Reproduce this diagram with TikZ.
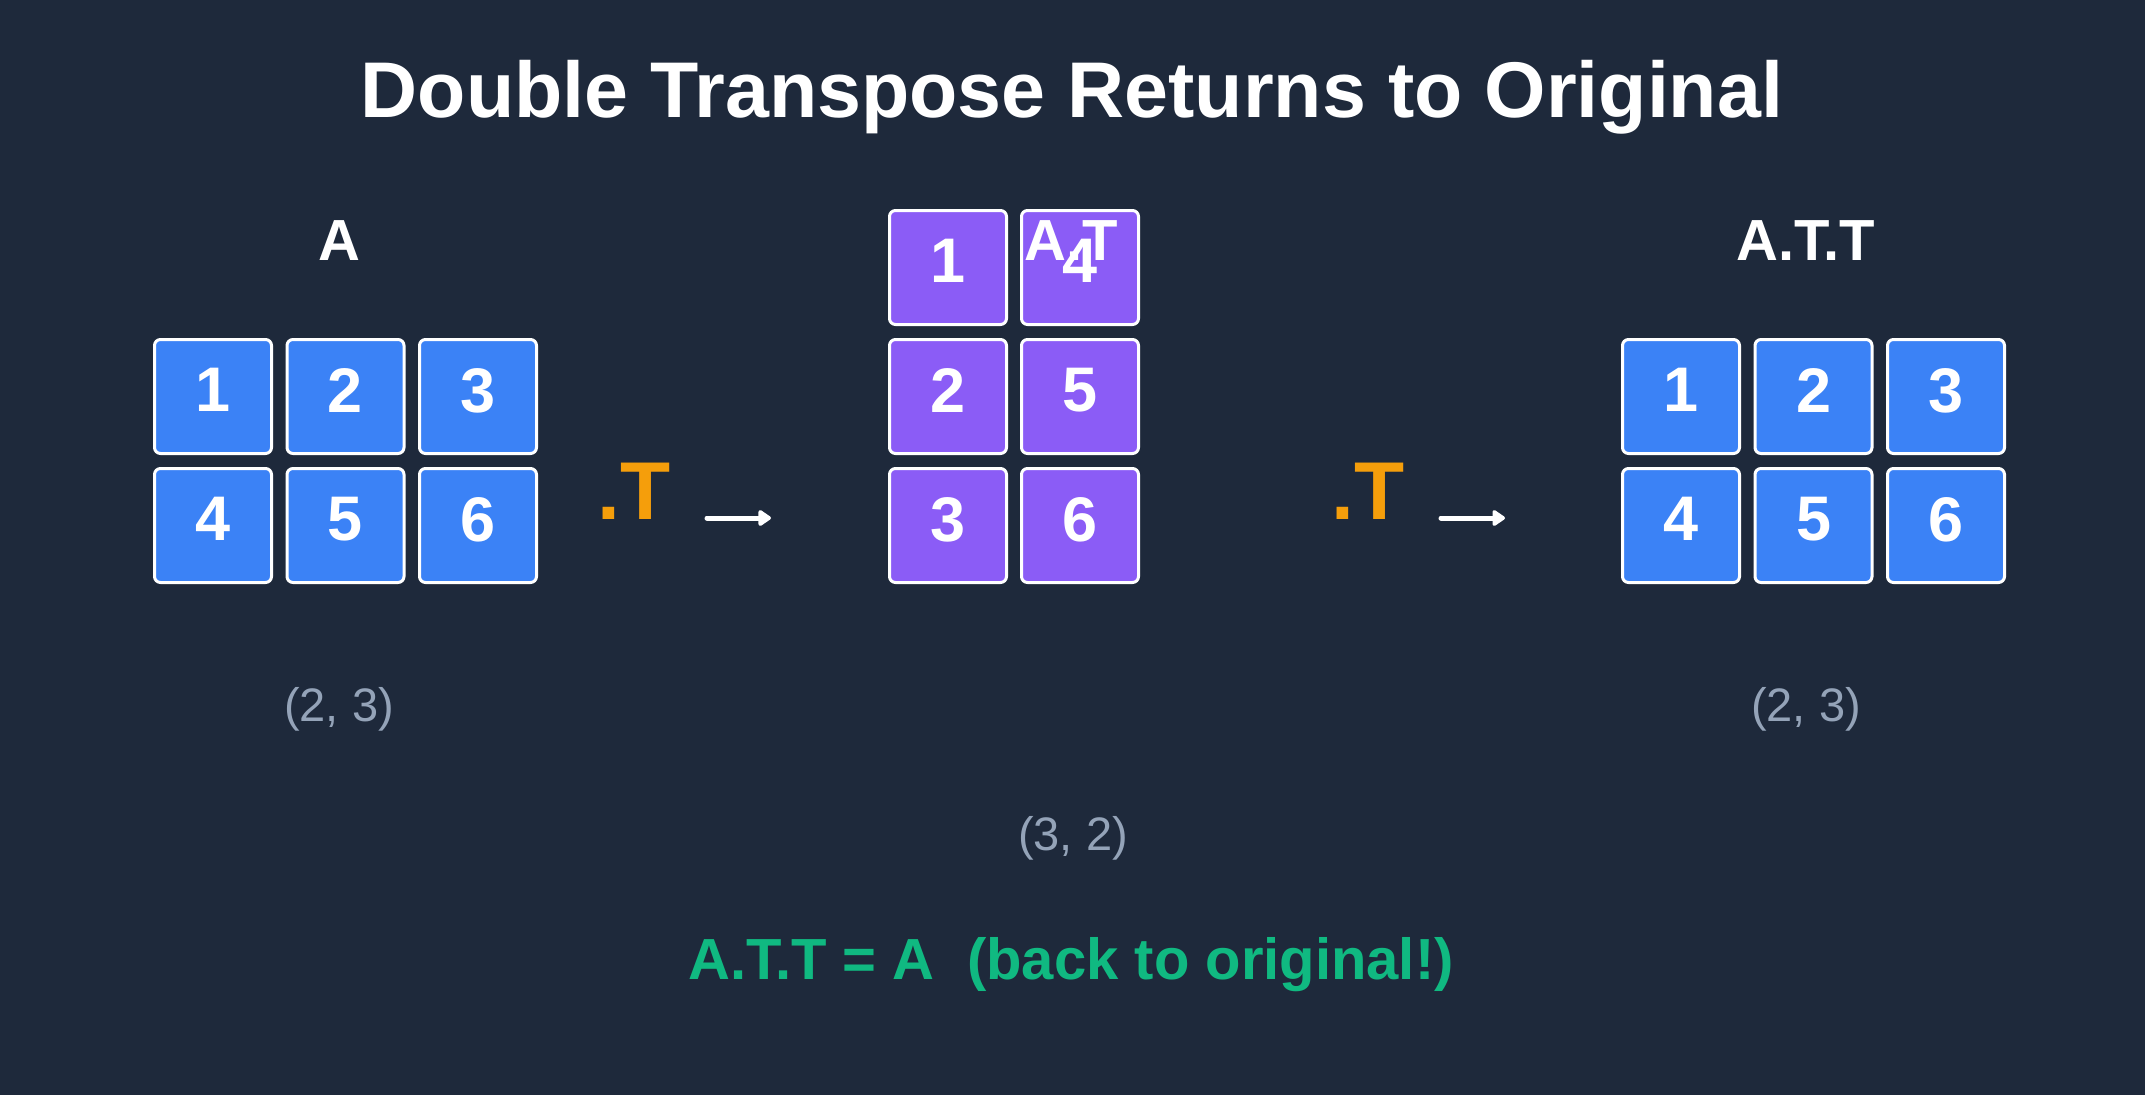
\documentclass[tikz,border=0pt]{standalone}
\usepackage{fontspec}
\setmainfont{Liberation Sans}
\usetikzlibrary{arrows.meta,positioning}
\definecolor{bgnavy}{RGB}{30,41,59}
\definecolor{cellblue}{RGB}{59,130,246}
\definecolor{cellpurple}{RGB}{139,92,246}
\definecolor{oporange}{RGB}{245,158,11}
\definecolor{shapegray}{RGB}{148,163,184}
\definecolor{notegreen}{RGB}{16,185,129}

\begin{document}
\begin{tikzpicture}[x=1pt,y=-1pt,
    cell/.style={draw=white,line width=3pt,rounded corners=6pt,
      minimum width=117pt,minimum height=114pt,inner sep=0pt,text depth=13pt,
      text=white,font=\fontsize{63}{63}\selectfont\bfseries},
    head/.style={anchor=base,text=white,font=\fontsize{58}{58}\selectfont\bfseries},
    optag/.style={anchor=base,text=oporange,font=\fontsize{82}{82}\selectfont\bfseries},
    shapetag/.style={anchor=base,text=shapegray,font=\fontsize{47}{47}\selectfont},
    flow/.style={white,line width=5pt,line cap=round,-{Triangle[length=14pt,width=18pt,round]}}]
    % background, margins included
    \fill[bgnavy] (0,0) rectangle (2145,1095);
    \useasboundingbox (0,0) rectangle (2145,1095);
    % title
    \node[anchor=base,text=white,font=\fontsize{79}{79}\selectfont\bfseries] (title) at (1072,117)
      {Double Transpose Returns to Original};
    % A: 2x3
    \foreach \r in {0,1} \foreach \c in {0,1,2} {
      \pgfmathtruncatemacro{\v}{3*\r+\c+1}
      \node[cell,fill=cellblue] (a-\r-\c) at (213+132.5*\c,396.5+129*\r) {\v};
    }
    % A.T: 3x2
    \foreach \r in {0,1,2} \foreach \c in {0,1} {
      \pgfmathtruncatemacro{\v}{\r+3*\c+1}
      \node[cell,fill=cellpurple] (at-\r-\c) at (948+132*\c,267.5+129*\r) {\v};
    }
    % A.T.T: 2x3 again
    \foreach \r in {0,1} \foreach \c in {0,1,2} {
      \pgfmathtruncatemacro{\v}{3*\r+\c+1}
      \node[cell,fill=cellblue] (att-\r-\c) at (1681+132.5*\c,396.5+129*\r) {\v};
    }
    % names
    \node[head] (nameA) at (339,260) {A};
    \node[head] (nameAT) at (1071,260) {A.T};
    \node[head] (nameATT) at (1806,260) {A.T.T};
    % shapes
    \node[shapetag] (shapeA) at (339,721) {(2, 3)};
    \node[shapetag] (shapeAT) at (1073,850) {(3, 2)};
    \node[shapetag] (shapeATT) at (1806,721) {(2, 3)};
    % transpose steps
    \node[optag] (op1) at (634,519) {.T};
    \node[optag] (op2) at (1368,519) {.T};
    \coordinate (go1s) at (707,518);
    \coordinate (go1e) at (771,518);
    \coordinate (go2s) at (1441,518);
    \coordinate (go2e) at (1505,518);
    \draw[flow] (go1s) -- (go1e);
    \draw[flow] (go2s) -- (go2e);
    % result
    \node[anchor=base,text=notegreen,font=\fontsize{58}{58}\selectfont\bfseries] (result) at (1071,979)
      {A.T.T = A\ \ (back to original!)};
\end{tikzpicture}
\end{document}
